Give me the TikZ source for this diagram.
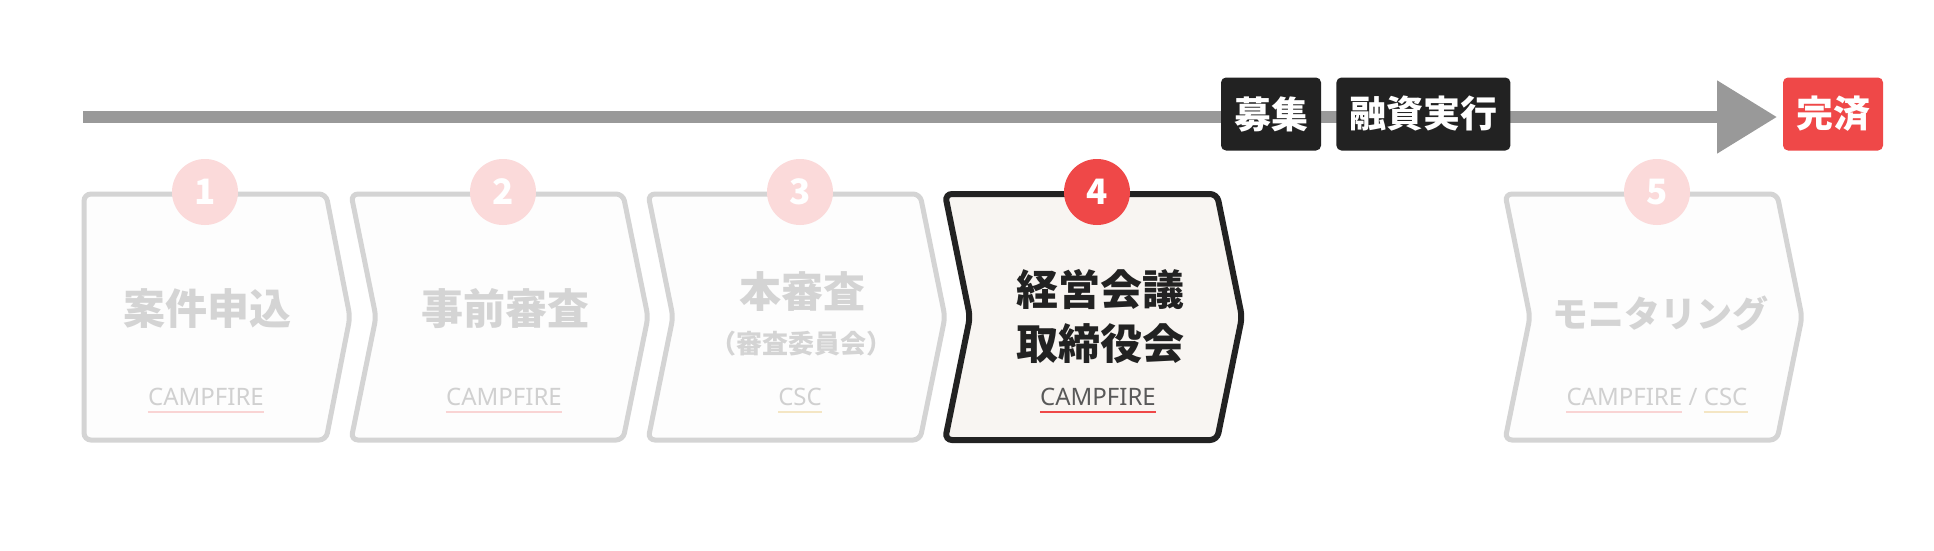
\documentclass[tikz,border=0pt]{standalone}
\usepackage{fontspec}
\setmainfont{Noto Sans}
\newfontfamily\jp{Noto Sans CJK JP}
\usepackage{tikz}
\usetikzlibrary{positioning,arrows.meta}
\definecolor{flowgray}{HTML}{999999}
\definecolor{inkdark}{HTML}{222222}
\definecolor{mutedline}{HTML}{D4D4D4}
\definecolor{mutedtext}{HTML}{D4D4D4}
\definecolor{mutedorg}{HTML}{D0D0D0}
\definecolor{stepred}{HTML}{EF4848}
\definecolor{pinkdot}{HTML}{FBDADA}
\definecolor{pinkline}{HTML}{F9D4D4}
\definecolor{creamline}{HTML}{F4E6C4}
\definecolor{activefill}{HTML}{F8F5F2}
\definecolor{mutedfill}{HTML}{FDFDFD}
\tikzstyle{flowarrow} = [flowgray, line width=12pt, -{Triangle[length=60pt,width=70pt]}]
\tikzstyle{stepbox} = [draw=mutedline, fill=mutedfill, line width=5pt, rounded corners=7pt]
\tikzstyle{activebox} = [draw=inkdark, fill=activefill, line width=6pt, rounded corners=7pt]
\tikzstyle{tagbox} = [fill=inkdark, text=white, rounded corners=5pt, minimum height=73pt, inner xsep=13pt, font=\jp\bfseries\fontsize{37}{37}\selectfont]
\tikzstyle{badge} = [circle, minimum size=66pt, inner sep=0pt, text=white, font=\jp\bfseries\fontsize{35}{35}\selectfont]
\tikzstyle{steplabel} = [align=center, inner sep=0pt, font=\jp\bfseries\fontsize{42}{54}\selectfont]
\tikzstyle{sublabel} = [inner sep=0pt, text=mutedtext, font=\jp\bfseries\fontsize{26}{26}\selectfont]
\tikzstyle{orgname} = [inner sep=0pt, anchor=base, text=mutedorg, font=\fontsize{24}{24}\selectfont]
\tikzstyle{orgline} = [line width=2.5pt]

\begin{document}
\begin{tikzpicture}[x=1pt, y=-1pt]
    \useasboundingbox[fill=white] (0,0) rectangle (1934,551);
    % Timeline
    \coordinate (flowstart) at (83,117);
    \coordinate (flowend) at (1777,117);
    \draw[flowarrow] (flowstart) -- (flowend);
    \node[tagbox] (bosyu) at (1271,114) {募集};
    \node[tagbox, right=15pt of bosyu] (yushi) {融資実行};
    \node[tagbox, fill=stepred] (kansai) at (1833,114) {完済};
    % Step frames (the first has no notch)
    \draw[stepbox] (84,194) -- (326,194) -- (350,317) -- (326,440) -- (84,440) -- cycle;
    \foreach \xl in {351,648,1505} {
        \draw[stepbox] (\xl,194) -- (\xl+272,194) -- (\xl+297,317) -- (\xl+272,440) -- (\xl,440) -- (\xl+25,317) -- cycle;
    }
    \draw[activebox] (945,194) -- (1217,194) -- (1242,317) -- (1217,440) -- (945,440) -- (970,317) -- cycle;
    % Numbered badges
    \foreach \n/\cx in {1/205,2/503,3/800,5/1657} {
        \node[badge, fill=pinkdot] (badge\n) at (\cx,192) {\n};
    }
    \node[badge, fill=stepred] (badge4) at (1097,192) {4};
    % Step names
    \node[steplabel, text=mutedtext] (label1) at (207,309) {案件申込};
    \node[steplabel, text=mutedtext] (label2) at (505,309) {事前審査};
    \node[steplabel, text=mutedtext] (label3) at (802,292) {本審査};
    \node[sublabel] (label3sub) at (801,344) {（審査委員会）};
    \node[steplabel, text=inkdark] (label4) at (1100,317) {経営会議\\取締役会};
    \node[steplabel, text=mutedtext, font=\jp\bfseries\fontsize{36}{36}\selectfont] (label5) at (1660,313) {モニタリング};
    % Responsible organisations
    \node[orgname] (org1) at (206,405) {CAMPFIRE};
    \node[orgname] (org2) at (504,405) {CAMPFIRE};
    \node[orgname] (org3) at (800,405) {CSC};
    \node[orgname, text=inkdark!75] (org4) at (1098,405) {CAMPFIRE};
    \node[orgname] (org5slash) at (1693,405) {/};
    \node[orgname, base left=6pt of org5slash] (org5a) {CAMPFIRE};
    \node[orgname, base right=6pt of org5slash] (org5b) {CSC};
    \foreach \o/\c in {org1/pinkline,org2/pinkline,org3/creamline,org4/stepred,org5a/pinkline,org5b/creamline} {
        \draw[orgline, \c] ([yshift=-7pt]\o.base west) -- ([yshift=-7pt]\o.base east);
    }
\end{tikzpicture}
\end{document}
